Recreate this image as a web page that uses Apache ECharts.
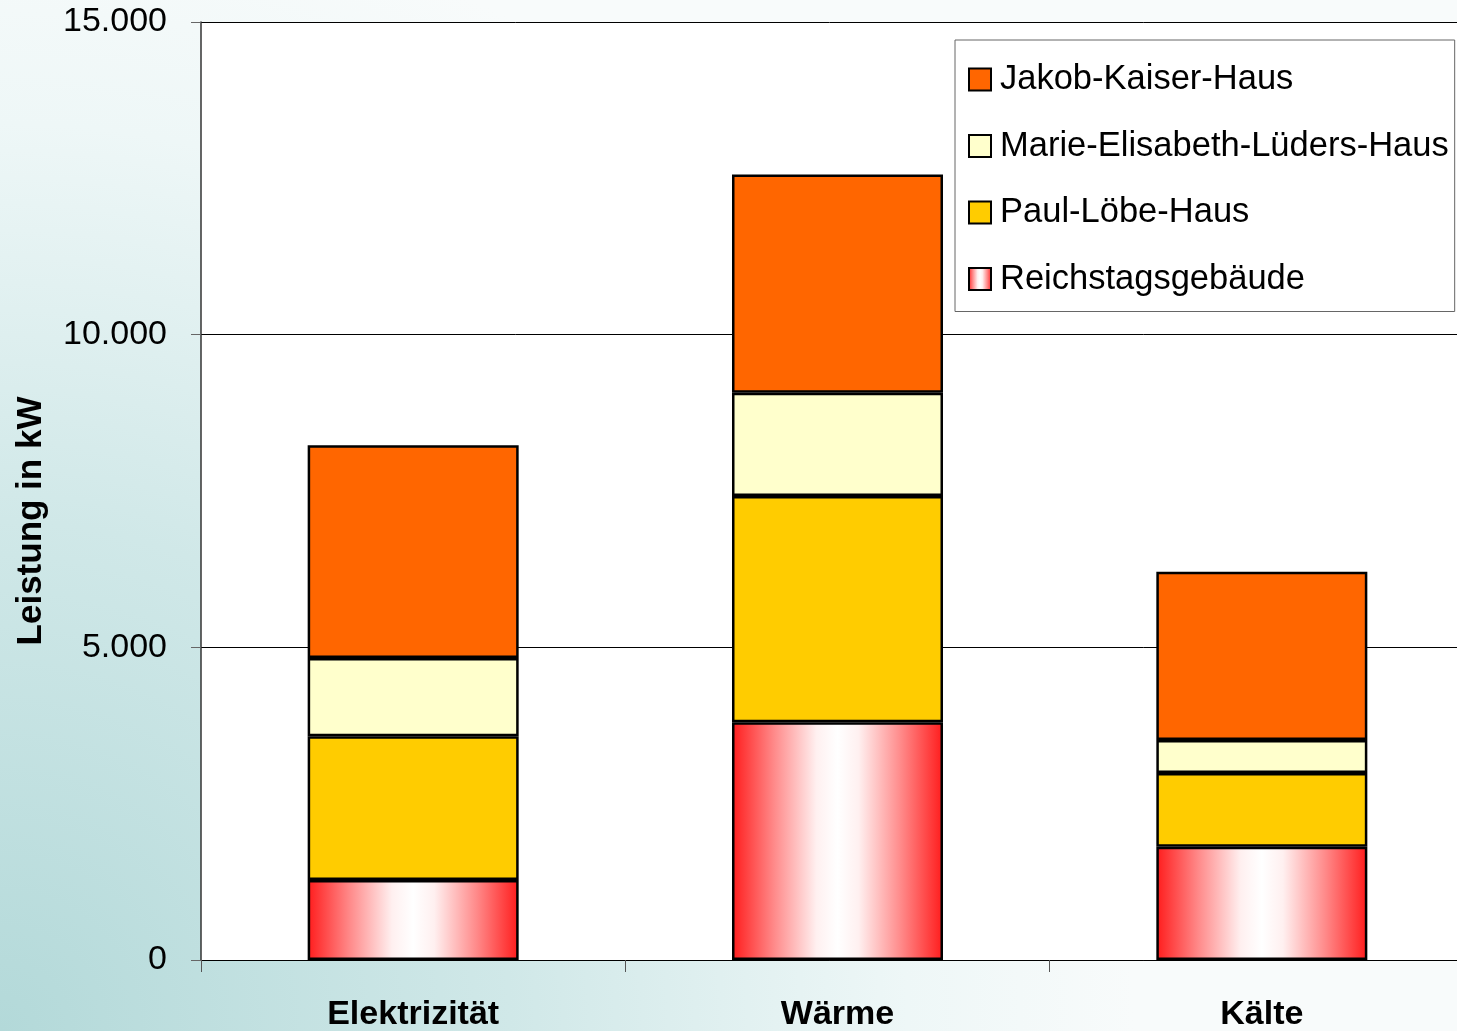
<!DOCTYPE html>
<html>
<head>
<meta charset="utf-8">
<title>Leistung in kW</title>
<script src="https://cdn.jsdelivr.net/npm/echarts@6/dist/echarts.min.js"></script>
<style>
  html, body { margin: 0; padding: 0; }
  #chart { width: 1457px; height: 1031px; }
</style>
</head>
<body>
<div id="chart"></div>
<script>
// Categories and stacked values (kW) per building
const categories = ['Elektrizität', 'Wärme', 'Kälte'];
const reichstag = [1280, 3800, 1810];
const paulLoebe = [2300, 3620, 1180];
const marieLueders = [1250, 1650, 530];
const jakobKaiser = [3400, 3490, 2690];
const yTicks = [0, 5000, 10000, 15000];

const FONT = '"Liberation Sans", Arial, sans-serif';

function formatDe(v) {
  return String(Math.round(v)).replace(/\B(?=(\d{3})+(?!\d))/g, '.');
}

const reichstagFill = {
  type: 'linear', x: 0, y: 0, x2: 1, y2: 0,
  colorStops: [
    { offset: 0, color: '#ff1c1c' },
    { offset: 0.2, color: '#ff8a8a' },
    { offset: 0.4, color: '#fff0f0' },
    { offset: 0.5, color: '#ffffff' },
    { offset: 0.6, color: '#fff0f0' },
    { offset: 0.8, color: '#ff8a8a' },
    { offset: 1, color: '#ff1c1c' }
  ]
};

function barSeries(name, data, color) {
  return {
    name: name,
    type: 'bar',
    stack: 'total',
    data: data,
    barWidth: 211,
    itemStyle: { color: color, borderColor: '#000', borderWidth: 2.5 },
    emphasis: { disabled: true }
  };
}

const chart = echarts.init(document.getElementById('chart'), null, { renderer: 'canvas' });
chart.setOption({
  animation: false,
  backgroundColor: {
    type: 'radial', x: 0, y: 1, r: 1.1,
    colorStops: [
      { offset: 0, color: '#b3d9d9' },
      { offset: 0.45, color: '#d0e8e8' },
      { offset: 0.8, color: '#eef7f7' },
      { offset: 1, color: '#f8fbfb' }
    ]
  },
  textStyle: { fontFamily: FONT },
  grid: {
    left: 201, top: 22, width: 1273, bottom: 71,
    outerBoundsMode: 'none',
    containLabel: false,
    show: true, backgroundColor: '#ffffff', borderWidth: 0
  },
  legend: {
    orient: 'vertical',
    left: 955, top: 40,
    padding: [22, 6, 15, 13],
    itemWidth: 22, itemHeight: 22, itemGap: 31.5,
    icon: 'rect',
    backgroundColor: '#ffffff',
    borderColor: '#666666', borderWidth: 1,
    textStyle: { fontSize: 34.5, color: '#000', fontFamily: FONT, padding: [0, 0, 0, 4] },
    data: ['Jakob-Kaiser-Haus', 'Marie-Elisabeth-Lüders-Haus', 'Paul-Löbe-Haus', 'Reichstagsgebäude']
  },
  xAxis: {
    type: 'category',
    data: categories,
    axisLine: { lineStyle: { color: '#000', width: 1 } },
    axisTick: { show: true, interval: 0, length: 12, lineStyle: { color: '#555' } },
    axisLabel: { fontSize: 34, fontWeight: 'bold', color: '#000', margin: 38, fontFamily: FONT }
  },
  yAxis: {
    type: 'value',
    min: yTicks[0], max: yTicks[yTicks.length - 1], interval: 5000,
    name: 'Leistung in kW',
    nameLocation: 'middle',
    nameGap: 152,
    nameTextStyle: { fontSize: 35, fontWeight: 'bold', color: '#000', fontFamily: FONT, padding: [0, 60, 0, 0] },
    axisLine: { show: true, lineStyle: { color: '#333', width: 1.5 } },
    axisTick: { show: true, inside: false, length: 10, lineStyle: { color: '#666' } },
    axisLabel: { fontSize: 34, color: '#000', margin: 34, fontFamily: FONT, formatter: formatDe },
    splitLine: { show: true, lineStyle: { color: '#000', width: 1 } }
  },
  series: [
    barSeries('Reichstagsgebäude', reichstag, reichstagFill),
    barSeries('Paul-Löbe-Haus', paulLoebe, '#ffcc00'),
    barSeries('Marie-Elisabeth-Lüders-Haus', marieLueders, '#ffffcc'),
    barSeries('Jakob-Kaiser-Haus', jakobKaiser, '#ff6600')
  ]
});
</script>
</body>
</html>
